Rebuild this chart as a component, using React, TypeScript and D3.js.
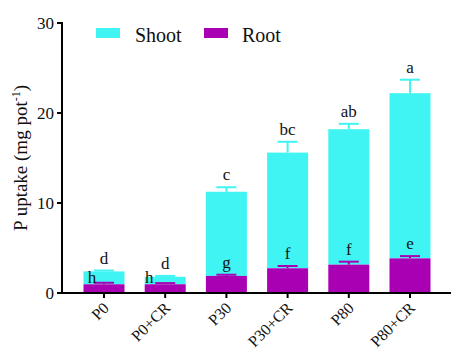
import React from 'react';
import * as d3 from 'd3';

const categories = ['P0', 'P0+CR', 'P30', 'P30+CR', 'P80', 'P80+CR'];
const rootValues = [0.97, 0.97, 1.9, 2.75, 3.15, 3.85];
const rootErr = [0.17, 0.13, 0.13, 0.25, 0.33, 0.25];
const shootValues = [1.43, 0.83, 9.35, 12.85, 15.05, 18.35];
const shootErr = [0.1, 0.1, 0.5, 1.2, 0.6, 1.5];
const shootLetters = ['d', 'd', 'c', 'bc', 'ab', 'a'];
const rootLetters = ['h', 'h', 'g', 'f', 'f', 'e'];
const yTicks = [0, 10, 20, 30];

const SHOOT = '#40f4f4';
const ROOT = '#aa00b4';
const TXT = { fontFamily: "'Liberation Serif', 'Times New Roman', Tinos, serif" };

const App = () => {
  const width = 451;
  const height = 356;
  const axisX = 62;
  const axisY = 293;

  const y = d3.scaleLinear().domain([0, 30]).range([axisY, 23]);
  const x = d3.scaleBand<string>()
    .domain(categories)
    .range([73.4, 440.6])
    .paddingInner(0.33)
    .paddingOuter(0.165);
  const bw = x.bandwidth();
  const capW = 20;

  // little letter shifts for the two short bars
  const rootDx = [-12, -16, 0, 0, 0, 0];
  const rootDy = [7, 7, 0, 0, 0, 0];

  return (
    <svg width={width} height={height} style={{ position: 'absolute', left: 0, top: 0 }}>
      {categories.map((c, i) => {
        const x0 = x(c)!;
        const cx = x0 + bw / 2;
        const total = rootValues[i] + shootValues[i];
        const shootTop = y(total);
        const shootCap = y(total + shootErr[i]);
        const rootTop = y(rootValues[i]);
        const rootCap = y(rootValues[i] + rootErr[i]);
        return (
          <g key={c}>
            <rect x={x0} y={shootTop} width={bw} height={rootTop - shootTop} fill={SHOOT} />
            <line x1={cx} x2={cx} y1={shootTop} y2={shootCap} stroke={SHOOT} strokeWidth={2} />
            <line x1={cx - capW / 2} x2={cx + capW / 2} y1={shootCap} y2={shootCap} stroke={SHOOT} strokeWidth={2} />
            <rect x={x0} y={rootTop} width={bw} height={axisY - rootTop} fill={ROOT} />
            <line x1={cx} x2={cx} y1={rootTop} y2={rootCap} stroke={ROOT} strokeWidth={2} />
            <line x1={cx - capW / 2} x2={cx + capW / 2} y1={rootCap} y2={rootCap} stroke={ROOT} strokeWidth={2} />
            <text x={cx} y={shootCap - 7} textAnchor="middle" fontSize={17} fill="#111" style={TXT}>{shootLetters[i]}</text>
            <text x={cx + rootDx[i]} y={rootCap - 7 + rootDy[i]} textAnchor="middle" fontSize={17} fill="#111" style={TXT}>{rootLetters[i]}</text>
          </g>
        );
      })}

      {/* axes */}
      <line x1={axisX} x2={axisX} y1={y(30) - 1} y2={axisY + 1} stroke="#000" strokeWidth={2} />
      <line x1={axisX - 1} x2={width} y1={axisY} y2={axisY} stroke="#000" strokeWidth={2} />
      {yTicks.map(t => (
        <g key={t}>
          <line x1={axisX - 5} x2={axisX} y1={y(t)} y2={y(t)} stroke="#000" strokeWidth={2} />
          <text x={axisX - 8} y={y(t) + 6} textAnchor="end" fontSize={17} fill="#111" style={TXT}>{t}</text>
        </g>
      ))}
      {categories.map(c => {
        const cx = x(c)! + bw / 2;
        return (
          <g key={c}>
            <line x1={cx} x2={cx} y1={axisY} y2={axisY + 5} stroke="#000" strokeWidth={2} />
            <text transform={`translate(${cx + 6},${axisY + 16}) rotate(-45)`} textAnchor="end" fontSize={16} fill="#111" style={TXT}>{c}</text>
          </g>
        );
      })}

      <text transform={`translate(27,${y(15)}) rotate(-90)`} textAnchor="middle" fontSize={19} fill="#111" style={TXT}>
        P uptake (mg pot<tspan dy={-7} fontSize={12}>-1</tspan><tspan dy={7}>)</tspan>
      </text>

      {/* legend */}
      <rect x={96} y={28} width={24} height={10} fill={SHOOT} />
      <text x={135} y={42} fontSize={20} fill="#111" style={TXT}>Shoot</text>
      <rect x={204} y={28} width={24} height={10} fill={ROOT} />
      <text x={242} y={42} fontSize={20} fill="#111" style={TXT}>Root</text>
    </svg>
  );
};

export default App;
